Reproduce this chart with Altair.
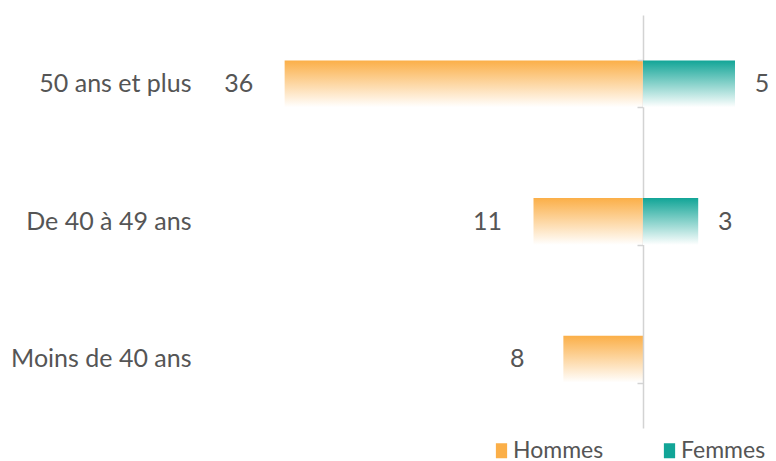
import altair as alt
import pandas as pd

ages = ["50 ans et plus", "De 40 à 49 ans", "Moins de 40 ans"]
hommes = [36, 11, 8]
femmes = [5, 3, None]
series = ["Hommes", "Femmes"]
colors = ["#FBAF48", "#12A597"]

rows = []
for a, h, f in zip(ages, hommes, femmes):
    rows.append({"age": a, "sexe": "Hommes", "n": h})
    if f is not None:
        rows.append({"age": a, "sexe": "Femmes", "n": f})
df = pd.DataFrame(rows)

FONT = "Lato"
FS = 25
TXT = "#555555"
AX = "#d3d3d3"


def grad(c):
    return alt.Gradient(
        gradient="linear", x1=0, x2=0, y1=0, y2=1,
        stops=[alt.GradientStop(offset=0, color=c),
               alt.GradientStop(offset=1, color="#ffffff")])


ysc = alt.Scale(domain=ages, paddingInner=0.66, paddingOuter=0.33)

left_axis = alt.Axis(domain=False, ticks=False, grid=False, title=None,
                     labelFontSize=FS, labelColor=TXT, labelFont=FONT,
                     labelLimit=400, labelPadding=14,
                     minExtent=205, maxExtent=205)
right_axis = alt.Axis(labels=False, domain=True, domainColor=AX,
                      domainWidth=1.5, ticks=True, tickColor=AX,
                      tickWidth=1.5, tickSize=6, tickBand="extent",
                      grid=False, title=None)
yl = alt.Y("age:N", scale=ysc, title=None, axis=left_axis)
yr = alt.Y("age:N", scale=ysc, title=None, axis=right_axis)

base_h = alt.Chart(df).transform_filter(alt.datum.sexe == "Hommes")
base_f = alt.Chart(df).transform_filter(alt.datum.sexe == "Femmes")

xl = alt.X("n:Q", scale=alt.Scale(domain=[0, 44], reverse=True), axis=None)
left_bars = base_h.mark_bar(color=grad(colors[0])).encode(x=xl, y=yl)
left_text = base_h.mark_text(align="center", baseline="middle", dx=-46,
                             font=FONT, fontSize=FS, color=TXT).encode(
    x=xl, y=yl, text="n:Q")
left = alt.layer(left_bars, left_text).properties(width=438, height=413)

xr = alt.X("n:Q", scale=alt.Scale(domain=[0, 6.63]), axis=None)
right_bars = base_f.mark_bar(color=grad(colors[1])).encode(x=xr, y=yr)
right_text = base_f.mark_text(align="center", baseline="middle", dx=27,
                              font=FONT, fontSize=FS, color=TXT).encode(
    x=xr, y=yr, text="n:Q")
legend_layer = base_f.mark_bar(opacity=0).encode(
    x=xr, y=yr,
    color=alt.Color("sexe:N", scale=alt.Scale(domain=series, range=colors),
                    legend=alt.Legend(title=None, orient="none",
                                      legendX=285, legendY=424, padding=0,
                                      direction="horizontal",
                                      symbolType="M-0.75,-1H0.75V1H-0.75Z",
                                      symbolSize=225, symbolOpacity=1,
                                      symbolStrokeWidth=0,
                                      labelFont=FONT, labelFontSize=23,
                                      labelColor=TXT, labelOffset=0,
                                      columnPadding=54)),
)
right = alt.layer(right_bars, right_text, legend_layer).properties(width=122, height=413)

chart = alt.hconcat(left, right, spacing=0, bounds="flush").properties(
    padding={"left": 0, "top": 15, "right": 0, "bottom": 0}
).configure_view(stroke=None)

chart.save("out.html", embed_options={"renderer": "svg", "actions": False})
